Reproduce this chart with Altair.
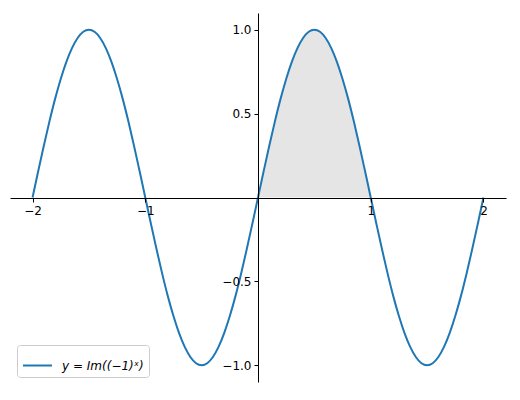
import altair as alt
import pandas as pd

# x sample positions (step 0.05 from -2 to 2)
xs = [round(-2 + 0.05 * i, 2) for i in range(81)]
# y = Im((-1)^x) values
ys = [
    0.0, 0.156, 0.309, 0.454, 0.588, 0.707, 0.809, 0.891, 0.951, 0.988,
    1.0, 0.988, 0.951, 0.891, 0.809, 0.707, 0.588, 0.454, 0.309, 0.156,
    0.0, -0.156, -0.309, -0.454, -0.588, -0.707, -0.809, -0.891, -0.951, -0.988,
    -1.0, -0.988, -0.951, -0.891, -0.809, -0.707, -0.588, -0.454, -0.309, -0.156,
    0.0, 0.156, 0.309, 0.454, 0.588, 0.707, 0.809, 0.891, 0.951, 0.988,
    1.0, 0.988, 0.951, 0.891, 0.809, 0.707, 0.588, 0.454, 0.309, 0.156,
    0.0, -0.156, -0.309, -0.454, -0.588, -0.707, -0.809, -0.891, -0.951, -0.988,
    -1.0, -0.988, -0.951, -0.891, -0.809, -0.707, -0.588, -0.454, -0.309, -0.156,
    0.0,
]
series_label = "y = Im((−1)ˣ)"
x_ticks = [-2, -1, 1, 2]
y_ticks = [-1.0, -0.5, 0.5, 1.0]

W, H = 496, 369

df = pd.DataFrame({"x": xs, "y": ys, "series": series_label})

xscale = alt.Scale(domain=[-2.2, 2.2], nice=False, zero=False)
yscale = alt.Scale(domain=[-1.1, 1.1], nice=False, zero=False)

axis_style = dict(
    grid=False, title=None, zindex=1,
    domainColor="black", tickColor="black", labelColor="black",
    labelFont="DejaVu Sans", labelFontSize=12, tickSize=4, labelPadding=3,
    domainWidth=1, tickWidth=1,
)
xaxis = alt.Axis(values=x_ticks, orient="bottom", offset=-H / 2 + 0.5,
                 format="d", labelFlush=False, **axis_style)
yaxis = alt.Axis(values=y_ticks, orient="left", offset=-W / 2,
                 format=".1f", **axis_style)

base = alt.Chart(df)

area = base.transform_filter(
    (alt.datum.x >= 0) & (alt.datum.x <= 1)
).mark_area(color="#e5e5e5", opacity=1, interpolate="monotone").encode(
    x=alt.X("x:Q", scale=xscale, axis=xaxis),
    y=alt.Y("y:Q", scale=yscale, axis=yaxis),
    y2=alt.datum(0),
)

line = base.mark_line(strokeWidth=2, interpolate="monotone").encode(
    x=alt.X("x:Q", scale=xscale, axis=xaxis),
    y=alt.Y("y:Q", scale=yscale, axis=yaxis),
    color=alt.Color(
        "series:N",
        scale=alt.Scale(domain=[series_label], range=["#1f77b4"]),
        legend=alt.Legend(
            title=None, orient="none", legendX=7, legendY=332,
            symbolType="stroke", symbolSize=841, symbolStrokeWidth=2,
            labelFontSize=12, labelFontStyle="italic", labelFont="DejaVu Sans",
            labelColor="black", padding=5, strokeColor="#cccccc",
            fillColor="white", cornerRadius=3, labelOffset=9,
        ),
    ),
)

chart = (area + line).properties(
    width=W, height=H,
    autosize=alt.AutoSizeParams(type="none"),
    padding={"left": 2, "top": 5, "right": 6, "bottom": 10},
    background="white",
).configure_view(stroke=None)

chart.save("out.html", embed_options={"renderer": "svg", "actions": False})
